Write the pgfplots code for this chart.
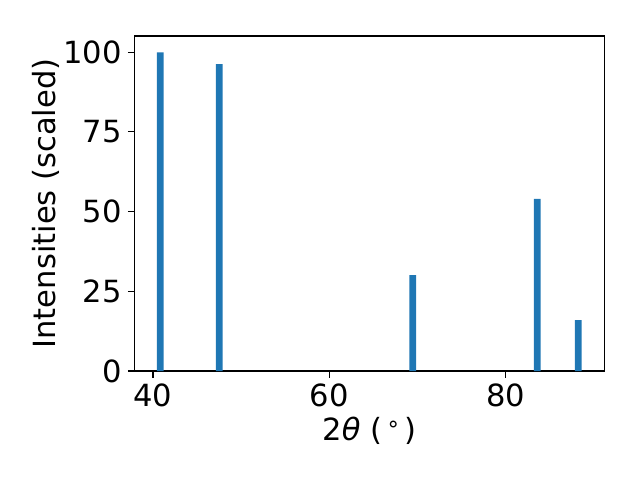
\documentclass[border=0pt]{standalone}
\usepackage{pgfplots}
\pgfplotsset{compat=1.18}
\usepackage{fontspec}
\setmainfont{DejaVu Sans}
\definecolor{mplblue}{HTML}{1F77B4}
\begin{document}
\begin{tikzpicture}
\path[use as bounding box] (0,0) rectangle (460.8pt,345.6pt);
\begin{axis}[
  at={(96.98pt,78.48pt)}, anchor=south west,
  scale only axis, width=338.1pt, height=241.2pt,
  xmin=37.93, xmax=91.18, ymin=0, ymax=105.1,
  xtick={40,60,80}, ytick={0,25,50,75,100},
  tick align=outside, tick pos=left,
  major tick length=4.9pt,
  every tick/.style={line width=0.8pt, black},
  axis line style={line width=0.8pt},
  /pgf/number format/assume math mode=true,
  tick label style={font=\fontsize{22}{26}\selectfont},
  label style={font=\fontsize{22}{26}\selectfont},
  xlabel={2\textit{θ} (\hspace{3pt}\raisebox{0.55ex}{\fontsize{16}{19}\selectfont ∘}\hspace{3pt})},
  ylabel={Intensities (scaled)},
  ylabel style={yshift=-4pt},
  xticklabel style={yshift=-1pt},
  yticklabel style={xshift=-1pt},
]
\addplot[ybar, bar width=0.76, fill=mplblue, draw=none, bar shift=0pt] coordinates {
  (40.83,100) (47.52,96.3) (69.45,30.1) (83.58,54.0) (88.23,16.0)
};
\end{axis}
\end{tikzpicture}
\end{document}
